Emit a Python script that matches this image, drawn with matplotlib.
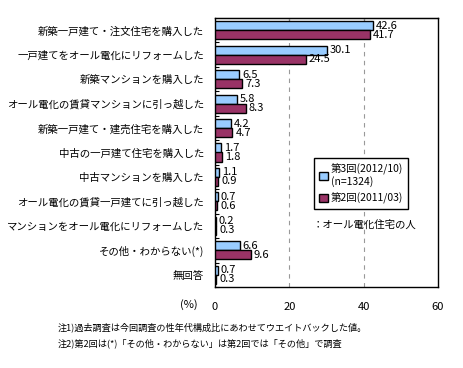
import matplotlib
matplotlib.use("Agg")
import matplotlib.pyplot as plt
import numpy as np

plt.rcParams['font.family'] = ['Noto Sans CJK JP', 'DejaVu Sans']

categories = [
    "新築一戸建て・注文住宅を購入した",
    "一戸建てをオール電化にリフォームした",
    "新築マンションを購入した",
    "オール電化の賃貸マンションに引っ越した",
    "新築一戸建て・建売住宅を購入した",
    "中古の一戸建て住宅を購入した",
    "中古マンションを購入した",
    "オール電化の賃貸一戸建てに引っ越した",
    "マンションをオール電化にリフォームした",
    "その他・わからない(*)",
    "無回答",
]
round3 = [42.6, 30.1, 6.5, 5.8, 4.2, 1.7, 1.1, 0.7, 0.2, 6.6, 0.7]
round2 = [41.7, 24.5, 7.3, 8.3, 4.7, 1.8, 0.9, 0.6, 0.3, 9.6, 0.3]
series_labels = ["第3回(2012/10)\n(n=1324)", "第2回(2011/03)"]
xticks = [0, 20, 40, 60]
notes = [
    "注1)過去調査は今回調査の性年代構成比にあわせてウエイトバックした値。",
    "注2)第2回は(*)「その他・わからない」は第2回では「その他」で調査",
]

W, H = 463, 368
fig = plt.figure(figsize=(W / 100, H / 100), dpi=100)
ax = fig.add_axes([215 / W, 1 - 287 / H, 223 / W, 269 / H])

y = np.arange(len(categories))
h = 0.37
b3 = ax.barh(y - h / 2, round3, height=h, color="#99CCFF", edgecolor="black", linewidth=1, label=series_labels[0], zorder=3)
b2 = ax.barh(y + h / 2, round2, height=h, color="#993366", edgecolor="black", linewidth=1, label=series_labels[1], zorder=3)

for bars, vals in ((b3, round3), (b2, round2)):
    for bar, v in zip(bars, vals):
        ax.text(v + 0.8, bar.get_y() + bar.get_height() / 2, f"{v:.1f}",
                ha="left", va="center", fontsize=8)

ax.set_xlim(0, 60)
ax.set_ylim(len(categories) - 0.5, -0.5)
ax.set_xticks(xticks)
ax.set_xticklabels([str(t) for t in xticks], fontsize=8)
ax.tick_params(axis="x", length=0, pad=11)
ax.set_yticks(y)
ax.set_yticklabels(categories, fontsize=7.5)
ax.tick_params(axis="y", length=0, pad=8)
# small inward ticks between categories
ax.set_yticks(np.arange(len(categories)) + 0.5, minor=True)
ax.tick_params(axis="y", which="minor", direction="in", length=3, width=0.8)
secx = ax.secondary_xaxis("top")
secx.set_xticks([20, 40])
secx.set_xticklabels([])
secx.tick_params(direction="in", length=3, width=0.8)

for g in [20, 40]:
    ax.axvline(g, color="#999999", linestyle=(0, (4, 4)), linewidth=0.8, zorder=1)
for s in ax.spines.values():
    s.set_linewidth(1)

leg = ax.legend(handles=[b3, b2], loc="upper left", bbox_to_anchor=(309 / W, 1 - 153 / H),
                bbox_transform=fig.transFigure, fancybox=False, edgecolor="black",
                framealpha=1, fontsize=7.5, handlelength=0.8, handleheight=0.8,
                handletextpad=0.3, borderpad=0.5, labelspacing=0.5)
leg.get_frame().set_linewidth(1)

fig.text(313 / W, 1 - 225 / H, "：オール電化住宅の人", fontsize=7.5, va="center", ha="left")
fig.text(198 / W, 1 - 305 / H, "(%)", fontsize=8, va="center", ha="right")
fig.text(58 / W, 1 - 327 / H, notes[0], fontsize=6.6, va="center", ha="left")
fig.text(58 / W, 1 - 343 / H, notes[1], fontsize=6.6, va="center", ha="left")

fig.savefig("out.png", dpi=100)
